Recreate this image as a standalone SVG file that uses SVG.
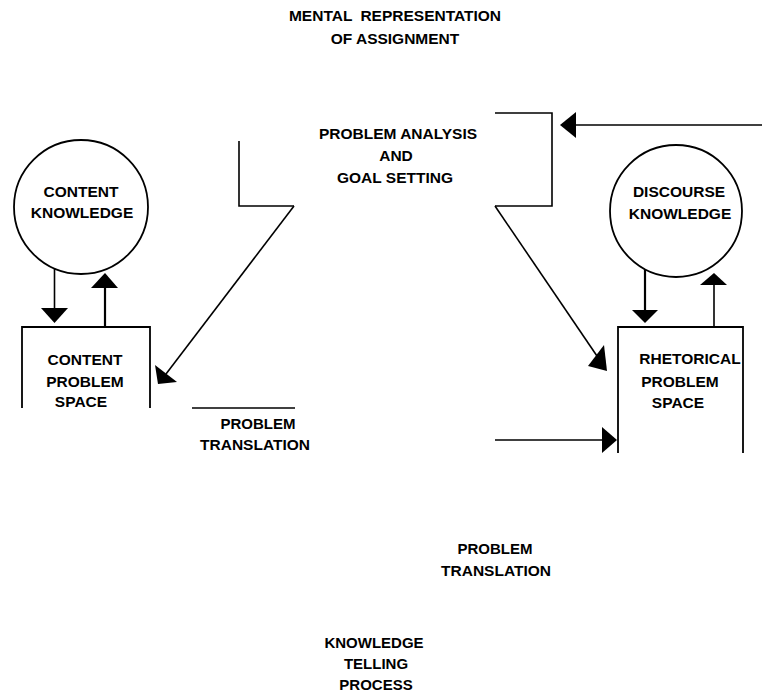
<svg xmlns="http://www.w3.org/2000/svg" width="762" height="693" viewBox="0 0 762 693">
<style>
text{font-family:"Liberation Sans",Arial,sans-serif;font-weight:bold;font-size:15.5px;fill:#000;text-anchor:middle}
.sm{font-size:15px}
.ln{fill:none;stroke:#000;stroke-width:1.6}
.thk{fill:none;stroke:#000;stroke-width:2.2}
.head{fill:#000;stroke:none}
.shape{fill:none;stroke:#000;stroke-width:1.8}
</style>
<rect width="762" height="693" fill="#fff"/>
<g id="mental-representation">
<text x="395" y="21" word-spacing="4">MENTAL REPRESENTATION</text>
<text x="395" y="44">OF ASSIGNMENT</text>
</g>
<g id="problem-analysis">
<path class="ln" d="M239,141 V206 H294"/>
<path class="ln" d="M495,113 H552 V206 H495"/>
<text x="398" y="139">PROBLEM ANALYSIS</text>
<text x="396" y="161">AND</text>
<text x="395" y="183">GOAL SETTING</text>
</g>
<g id="content-knowledge">
<circle class="shape" cx="81" cy="207" r="67"/>
<text x="81" y="197">CONTENT</text>
<text x="82" y="218">KNOWLEDGE</text>
</g>
<g id="content-problem-space">
<path class="shape" d="M22,408 V327 H150 V408"/>
<text x="85" y="365">CONTENT</text>
<text x="85" y="387">PROBLEM</text>
<text x="81" y="407">SPACE</text>
</g>
<g id="discourse-knowledge">
<circle class="shape" cx="676" cy="211" r="66"/>
<text x="679" y="197">DISCOURSE</text>
<text x="680" y="219">KNOWLEDGE</text>
</g>
<g id="rhetorical-problem-space">
<path class="shape" d="M618,453 V327 H743 V453"/>
<text x="690" y="364">RHETORICAL</text>
<text x="680" y="387">PROBLEM</text>
<text x="678" y="408">SPACE</text>
</g>
<g id="problem-translation-left">
<path class="ln" d="M192,408 H295"/>
<text class="sm" x="258" y="429">PROBLEM</text>
<text x="255" y="450">TRANSLATION</text>
</g>
<g id="problem-translation-right">
<text class="sm" x="495" y="554">PROBLEM</text>
<text x="496" y="576">TRANSLATION</text>
</g>
<g id="knowledge-telling-process">
<text class="sm" x="374" y="648">KNOWLEDGE</text>
<text class="sm" x="376" y="669">TELLING</text>
<text class="sm" x="376" y="690">PROCESS</text>
</g>
<g id="connectors">
<path class="ln" d="M294,206 L166,374"/>
<polygon class="head" points="158,384 155,365 177,382"/>
<path class="ln" d="M495,206 L597,356"/>
<polygon class="head" points="607,371 588,366 604,345"/>
<path class="ln" d="M576,125 H762"/>
<polygon class="head" points="560,125 576,112 576,138"/>
<path class="ln" d="M495,440 H603"/>
<polygon class="head" points="617,440 602,427 602,453"/>
<path class="ln" d="M54.5,268 V309"/>
<polygon class="head" points="41,308 68,308 54.5,323"/>
<path class="thk" d="M105,327 V287"/>
<polygon class="head" points="91,288 118,288 105,273"/>
<path class="thk" d="M645,269 V311"/>
<polygon class="head" points="632,310 658,310 645,323"/>
<path class="ln" d="M714,327 V284"/>
<polygon class="head" points="700,285 727,285 714,273"/>
</g>
</svg>
